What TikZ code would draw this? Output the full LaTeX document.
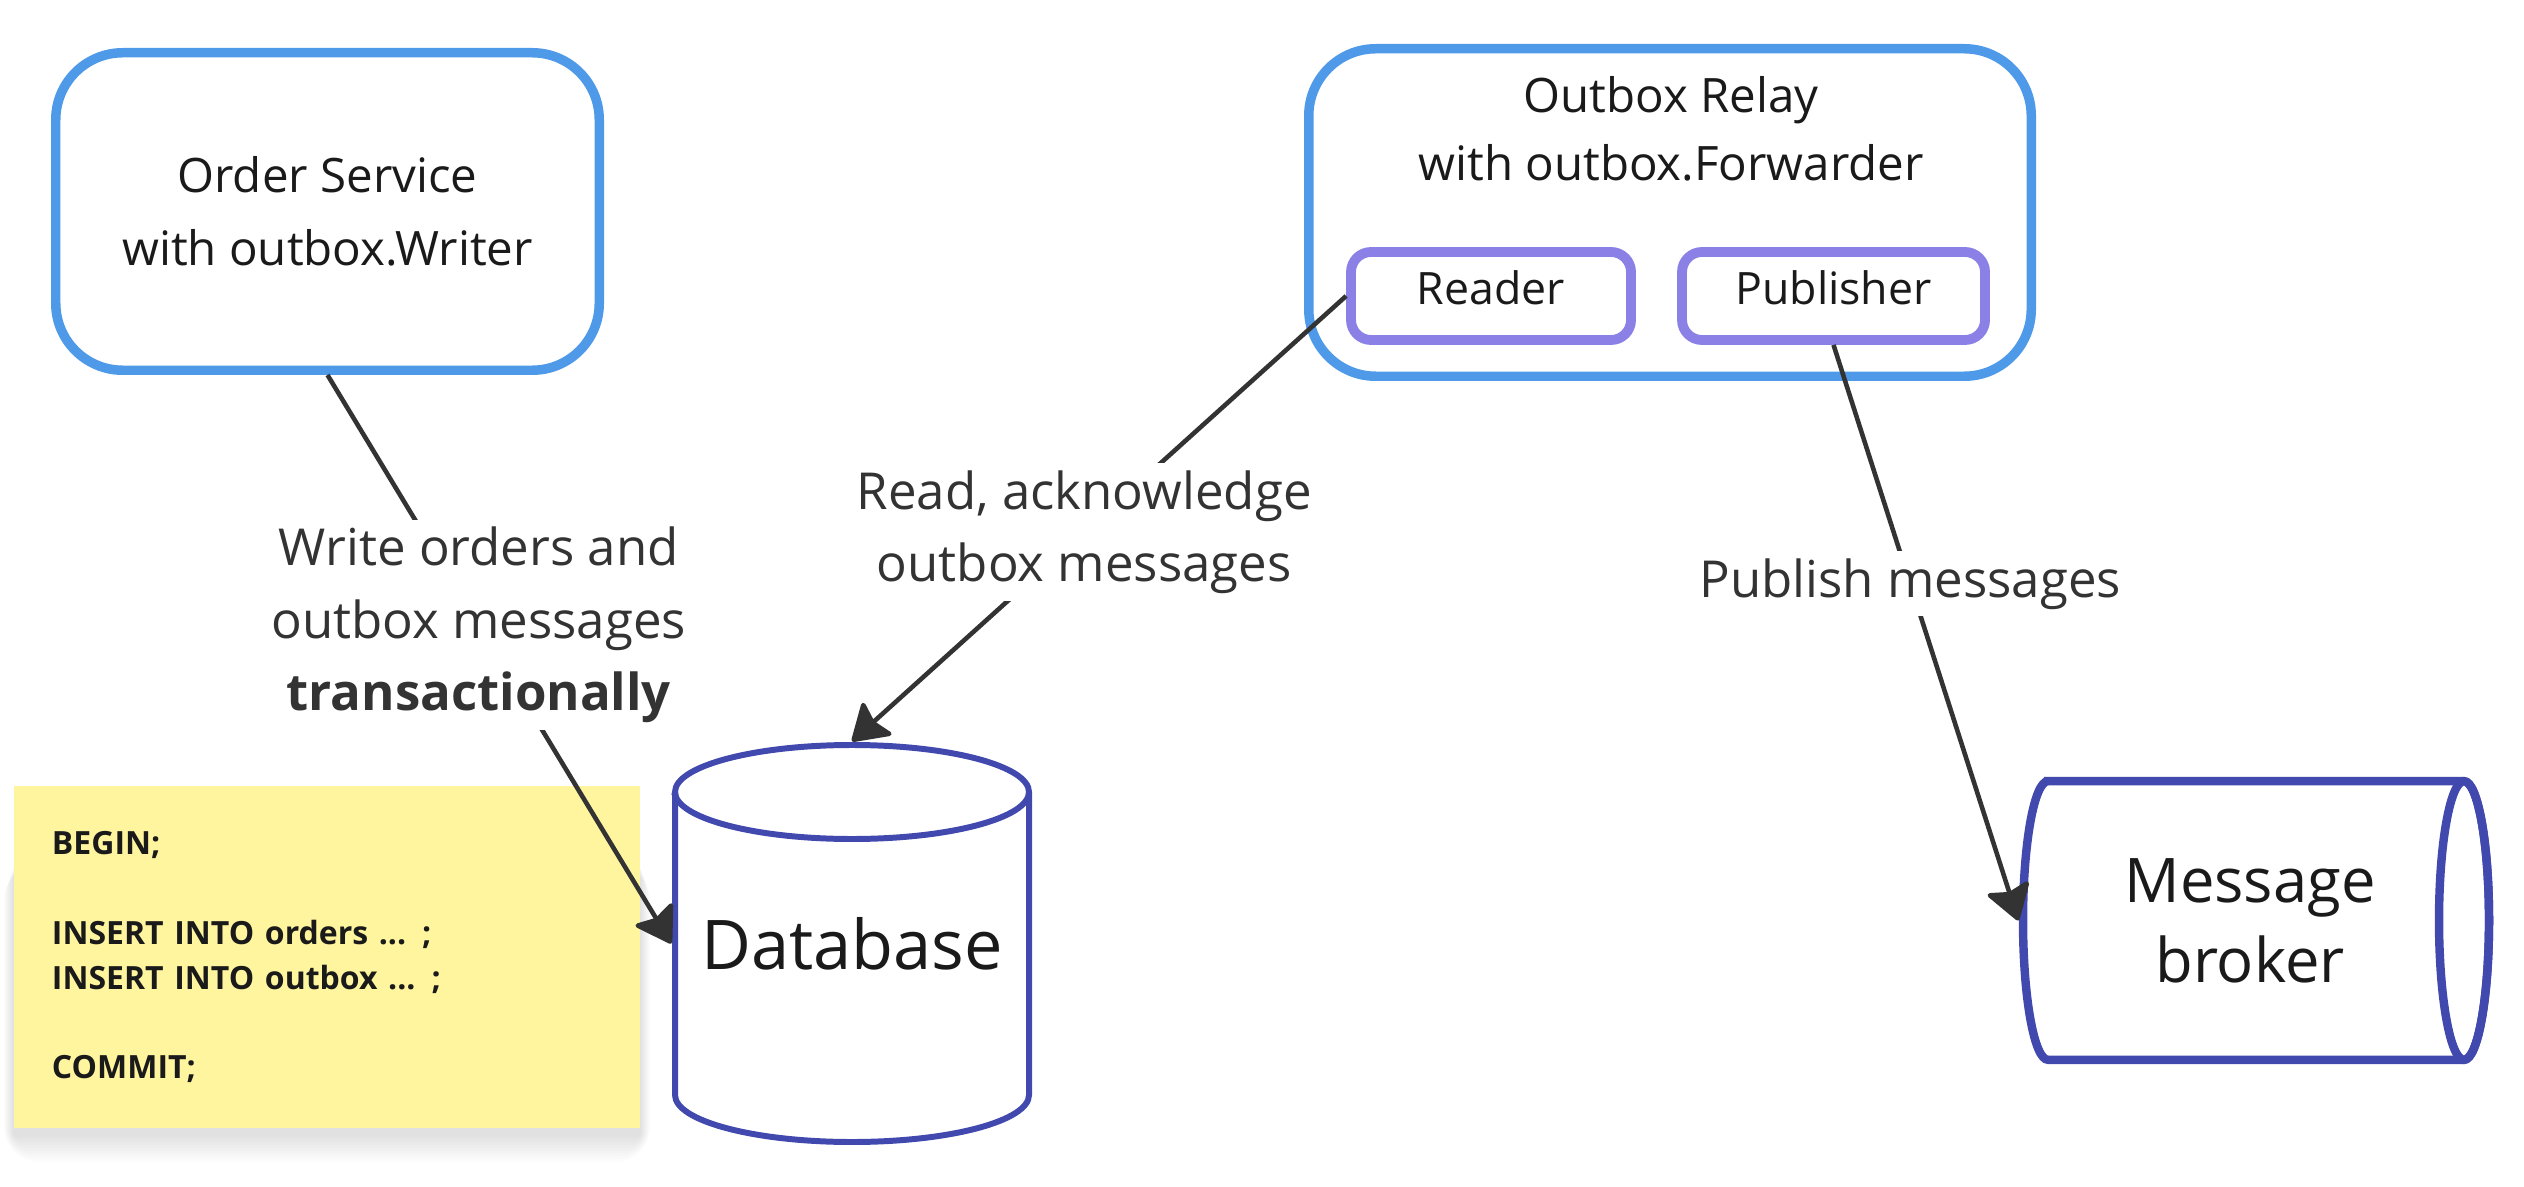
\documentclass[tikz,border=0pt]{standalone}
\usepackage{fontspec}
\setmainfont{Open Sans}
\usetikzlibrary{arrows.meta}
\definecolor{boxblue}{HTML}{4F9AE8}
\definecolor{partpurple}{HTML}{8B80E6}
\definecolor{storeblue}{HTML}{4249AE}
\definecolor{noteyellow}{HTML}{FFF59F}
\definecolor{linkgray}{HTML}{333333}
\definecolor{inkgray}{HTML}{1A1A1A}
\tikzset{
  service/.style={draw=boxblue, line width=2.7pt, rounded corners=0.67cm, fill=white, text=inkgray, align=center, font=\fontsize{13.5}{20.8}\selectfont},
  part/.style={draw=partpurple, line width=2.8pt, rounded corners=0.2cm, fill=white, text=inkgray, minimum height=0.88cm, text height=0.34cm, text depth=0.16cm, font=\fontsize{12.7}{15}\selectfont},
  store/.style={draw=storeblue, line width=1.7pt},
  queue/.style={draw=storeblue, line width=2.4pt},
  notebox/.style={fill=noteyellow, minimum width=6.26cm, minimum height=3.42cm, text width=5.5cm, inner xsep=0.38cm, align=left, text=inkgray, font=\bfseries\fontsize{9.1}{12.8}\selectfont},
  flow/.style={draw=linkgray, line width=1.3pt, -{Stealth[length=0.38cm, width=0.48cm, inset=0.06cm, round]}},
  flowlabel/.style={fill=white, text=linkgray, align=center, inner sep=2pt, font=\fontsize{14.5}{20.6}\selectfont},
}
\begin{document}
\begin{tikzpicture}
\useasboundingbox (0,0) rectangle (25.24,11.86);
\fill[white] (0,0) rectangle (25.24,11.86);
\foreach \i in {1,...,10}
  \fill[black, opacity=0.012, rounded corners=\i pt] (0.14-0.01*\i,0.52-0.028*\i) rectangle (6.40+0.01*\i,3.2);
\node (note) [notebox] at (3.27,2.29) {BEGIN;\\[12.8pt]INSERT INTO orders {.}{.}{.} ;\\INSERT INTO outbox {.}{.}{.} ;\\[12.8pt]COMMIT;};
\draw[store, fill=white] (6.75,3.94) -- (6.75,0.91) arc[start angle=180, end angle=360, x radius=1.77, y radius=0.47]
	-- (10.29,3.94) arc[start angle=0, end angle=180, x radius=1.77, y radius=0.47] -- cycle;
\draw[store] (6.75,3.94) arc[start angle=180, end angle=360, x radius=1.77, y radius=0.47];
\draw[queue, fill=white] (20.48,4.048) -- (24.64,4.048) arc[start angle=90, end angle=-90, x radius=0.25, y radius=1.393]
	-- (20.48,1.262) arc[start angle=270, end angle=90, x radius=0.25, y radius=1.393] -- cycle;
\draw[queue] (24.64,2.655) ellipse [x radius=0.25, y radius=1.393];
\node (order) [service, minimum width=5.435cm, minimum height=3.175cm] at (3.275,9.745) {Order Service\\with outbox.Writer};
\node (relay) [service, minimum width=7.225cm, minimum height=3.275cm] at (16.70,9.735) {};
\node (relaytitle) [text=inkgray, align=center, font=\fontsize{13.5}{19.4}\selectfont] at (16.71,10.57) {Outbox Relay\\with outbox.Forwarder};
\node (reader) [part, minimum width=2.80cm] at (14.91,8.90) {Reader};
\node (publisher) [part, minimum width=3.03cm] at (18.335,8.90) {Publisher};
\node (db) [minimum width=3.6cm, minimum height=4.03cm, text=inkgray, font=\fontsize{19.5}{24}\selectfont] at (8.52,2.425) {Database};
\node (broker) [minimum width=4.62cm, minimum height=2.87cm, align=center, text=inkgray, font=\fontsize{17.5}{22.8}\selectfont] at (22.50,2.655) {Message\\broker};
\draw[flow] (order.south) -- node[flowlabel, pos=0.44] {Write orders and\\outbox messages\\\textbf{transactionally}} (db.west);
\draw[flow] (reader.west) -- node[flowlabel, pos=0.53] {Read, acknowledge\\outbox messages} (db.north);
\draw[flow] (publisher.south) -- node[flowlabel, pos=0.415] {Publish messages} (broker.west);
\end{tikzpicture}
\end{document}
